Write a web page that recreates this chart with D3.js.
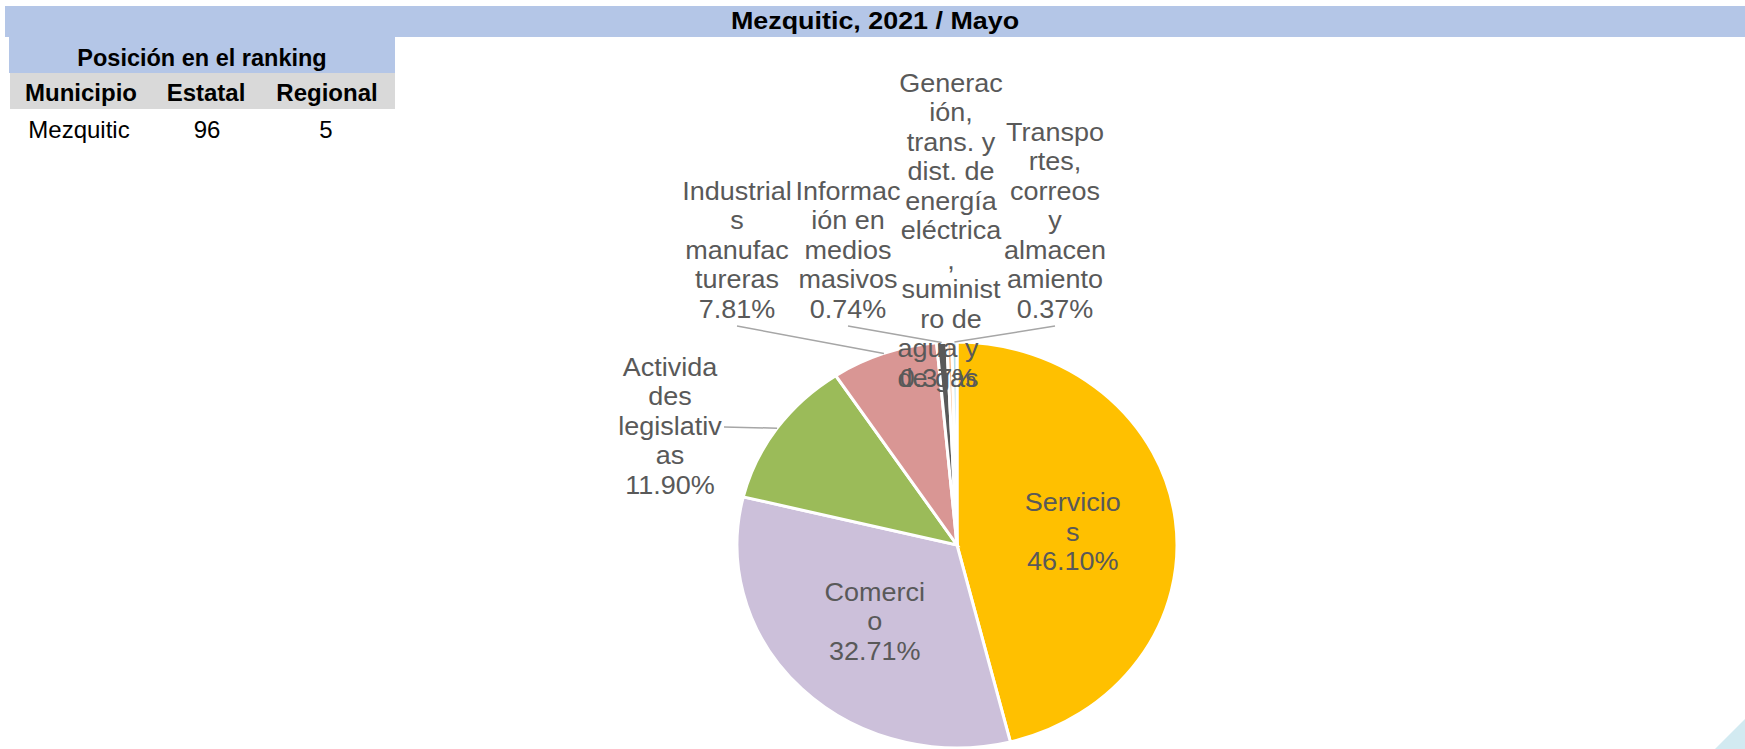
<!DOCTYPE html>
<html>
<head>
<meta charset="utf-8">
<script src="https://cdn.jsdelivr.net/npm/d3@7/dist/d3.min.js"></script>
<style>
  body { margin: 0; background: #fff; }
  svg { display: block; font-family: "Liberation Sans", Arial, sans-serif; }
</style>
</head>
<body>
<div id="chart"></div>
<script>
// Data
const categories = [
  "Servicios",
  "Comercio",
  "Actividades legislativas",
  "Industrias manufactureras",
  "Información en medios masivos",
  "Generación, trans. y dist. de energía eléctrica, suministro de agua y de gas",
  "Transportes, correos y almacenamiento"
];
const shares = [46.10, 32.71, 11.90, 7.81, 0.74, 0.37, 0.37];
// wrapped label text as Excel broke it
const labelLines = [
  ["Servicio", "s"],
  ["Comerci", "o"],
  ["Activida", "des", "legislativ", "as"],
  ["Industrial", "s", "manufac", "tureras"],
  ["Informac", "ión en", "medios", "masivos"],
  ["Generac", "ión,", "trans. y", "dist. de", "energía", "eléctrica", ",", "suminist", "ro de", "agua y", "de gas"],
  ["Transpo", "rtes,", "correos", "y", "almacen", "amiento"]
];
const colors = ["#FFC000", "#CCC0DA", "#9BBB59", "#D99694", "#595959", "#FAC090", "#B7DEE8"];

const titleText = "Mezquitic, 2021 / Mayo";
const topTitleText = "Gráfica 1. Distribución de unidades económicas";
const rankHeader = "Posición en el ranking";
const rankCols = ["Municipio", "Estatal", "Regional"];
const rankRow = ["Mezquitic", "96", "5"];

// Layout
const W = 1745, H = 749;
const cx = 957, cy = 545, ry = 203, sx = 220 / 203;
const lineH = 29.5;
const fontSize = 25;
const textStretch = 1.08;
const labelColor = "#595959";

// outside labels: centre x, baseline of last line, leader start (null = none)
const outside = {
  2: { x: 670, last: 494, leader: [724, 427] },
  3: { x: 737, last: 318, leader: [737, 326] },
  4: { x: 848, last: 318, leader: [848, 326] },
  5: { x: 951, last: 387, leader: null, tailFrom: 9, tailShift: -13, overlap: true },
  6: { x: 1055, last: 318, leader: [1055, 326] }
};

const svg = d3.select("#chart").append("svg")
  .attr("width", W)
  .attr("height", H);

// header band
svg.append("rect")
  .attr("x", 5).attr("y", 6)
  .attr("width", W - 5).attr("height", 31)
  .attr("fill", "#B4C6E7");

// top title sits mostly above the page, only its foot shows
svg.append("text")
  .attr("transform", `translate(875,-0.5) scale(1.1,1)`)
  .attr("text-anchor", "middle")
  .attr("font-weight", "bold")
  .attr("font-size", 24)
  .attr("fill", "#7f7f7f")
  .text(topTitleText);

svg.append("text")
  .attr("transform", `translate(875,29) scale(1.12,1)`)
  .attr("text-anchor", "middle")
  .attr("font-weight", "bold")
  .attr("font-size", 24)
  .attr("fill", "#000")
  .text(titleText);

// ranking table
svg.append("rect")
  .attr("x", 9).attr("y", 37)
  .attr("width", 386).attr("height", 36)
  .attr("fill", "#B4C6E7");
svg.append("rect")
  .attr("x", 10).attr("y", 73)
  .attr("width", 385).attr("height", 36)
  .attr("fill", "#D9D9D9");

svg.append("text")
  .attr("x", 202).attr("y", 66)
  .attr("text-anchor", "middle")
  .attr("font-weight", "bold")
  .attr("font-size", 23.5)
  .text(rankHeader);

const colX = [81, 206, 327];
const rowX = [79, 207, 326];
svg.selectAll("text.col")
  .data(rankCols)
  .join("text")
  .attr("class", "col")
  .attr("x", (d, i) => colX[i]).attr("y", 101)
  .attr("text-anchor", "middle")
  .attr("font-weight", "bold")
  .attr("font-size", 24)
  .text(d => d);

svg.selectAll("text.cell")
  .data(rankRow)
  .join("text")
  .attr("class", "cell")
  .attr("x", (d, i) => rowX[i]).attr("y", 138)
  .attr("text-anchor", "middle")
  .attr("font-size", 24)
  .text(d => d);

// pie
const data = categories.map((c, i) => ({ name: c, value: shares[i], lines: labelLines[i], color: colors[i], i }));

const pie = d3.pie().sort(null).value(d => d.value);
const arcs = pie(data);
const arc = d3.arc().innerRadius(0).outerRadius(ry);
const inner = d3.arc().innerRadius(0).outerRadius(ry * 1.06);

const pieG = svg.append("g")
  .attr("transform", `translate(${cx},${cy}) scale(${sx},1)`);

pieG.selectAll("path")
  .data(arcs)
  .join("path")
  .attr("d", arc)
  .attr("fill", d => d.data.color)
  .attr("stroke", "#fff")
  .attr("stroke-width", 3)
  .attr("vector-effect", "non-scaling-stroke");

// edge point of a slice in page coords
function edgePoint(d) {
  const a = (d.startAngle + d.endAngle) / 2;
  return [cx + sx * ry * Math.sin(a), cy - ry * Math.cos(a)];
}

const pct = v => d3.format(".2f")(v) + "%";

// leader lines
const leaders = svg.append("g")
  .attr("stroke", "#A6A6A6")
  .attr("stroke-width", 1.5)
  .attr("fill", "none");

arcs.forEach(d => {
  const o = outside[d.data.i];
  if (!o || !o.leader) return;
  const [ex, ey] = edgePoint(d);
  leaders.append("line")
    .attr("x1", o.leader[0]).attr("y1", o.leader[1])
    .attr("x2", ex).attr("y2", ey);
});

// labels
const labels = svg.append("g")
  .attr("font-size", fontSize)
  .attr("fill", labelColor)
  .attr("text-anchor", "middle");

arcs.forEach(d => {
  const o = outside[d.data.i];
  let lines = d.data.lines.slice();
  let x, firstBase;
  if (o) {
    const n = o.overlap ? lines.length : lines.length + 1;
    x = o.x;
    firstBase = o.last - (n - 1) * lineH;
  } else {
    const c = inner.centroid(d);
    const n = lines.length + 1;
    x = cx + sx * c[0];
    firstBase = cy + c[1] - ((n - 1) * lineH) / 2 + fontSize * 0.35;
  }
  const t = labels.append("text")
    .attr("transform", `translate(${x},${firstBase}) scale(${textStretch},1)`);
  const shiftOf = k => (o && o.tailFrom !== undefined && k >= o.tailFrom) ? o.tailShift / textStretch : 0;
  lines.forEach((ln, k) => {
    t.append("tspan")
      .attr("x", shiftOf(k))
      .attr("y", k * lineH)
      .text(ln);
  });
  const pk = (o && o.overlap) ? lines.length - 1 : lines.length;
  t.append("tspan")
    .attr("x", shiftOf(pk))
    .attr("y", pk * lineH)
    .text(pct(d.data.value));
});

// corner decoration
svg.append("path")
  .attr("d", `M${W - 30},${H} L${W},${H - 30} L${W},${H} Z`)
  .attr("fill", "#D2EAF1");
</script>
</body>
</html>
